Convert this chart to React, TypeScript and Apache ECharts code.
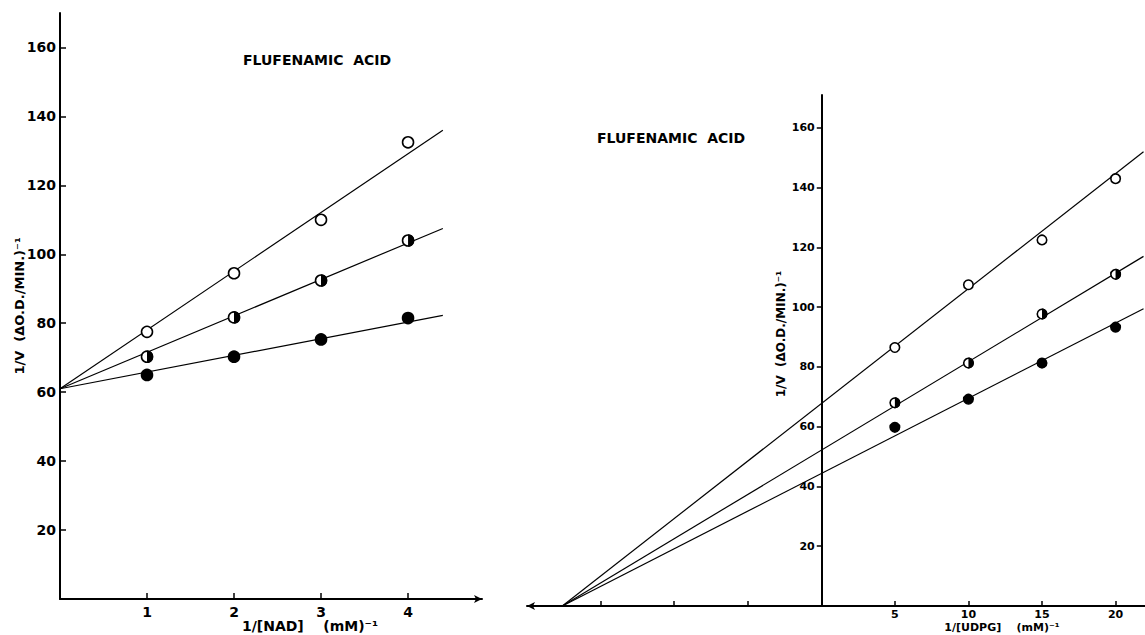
import React, { useEffect, useRef } from 'react';
import * as echarts from 'echarts';

// ---- Left panel: 1/[NAD] ----
const leftX = [1, 2, 3, 4];
const leftOpen = [77.5, 94.5, 110, 132.5];
const leftHalf = [70.3, 81.7, 92.4, 104];
const leftFilled = [65, 70.3, 75.3, 81.5];
const leftLineX = [0, 4.4];
const leftLineOpen = [61, 136];
const leftLineHalf = [61, 107.5];
const leftLineFilled = [61, 82.3];

// ---- Right panel: 1/[UDPG] ----
const rightX = [5, 10, 15, 20];
const rightOpen = [86.5, 107.5, 122.5, 143];
const rightHalf = [68, 81.3, 97.7, 111];
const rightFilled = [59.8, 69.2, 81.3, 93.3];
const rightLineX = [-17.6, 21.9];
const rightLineOpen = [0, 152];
const rightLineHalf = [0, 117];
const rightLineFilled = [0, 99.5];

// ---- Ticks / labels ----
const yTicks = [20, 40, 60, 80, 100, 120, 140, 160];
const leftXTicks = [1, 2, 3, 4];
const rightXTicks = [-15, -10, -5, 5, 10, 15, 20];
const rightXLabels = [5, 10, 15, 20];

const titleText = 'FLUFENAMIC  ACID';
const yNameText = '1/V  (ΔO.D./MIN.)⁻¹';
const leftXName = '1/[NAD]    (mM)⁻¹';
const rightXName = '1/[UDPG]    (mM)⁻¹';

const FONT = 'DejaVu Sans';
const HALF_PATH = 'path://M0,0C5.52,0,10,4.48,10,10C10,15.52,5.52,20,0,20Z';

// right grid geometry (x range -20..22)
const R_LEFT = 527;
const R_WIDTH = 619;
const R_MIN = -20;
const R_MAX = 22;

const pairs = (xs: number[], ys: number[]) => xs.map((x, i) => [x, ys[i]]);

function lineSeries(grid: number, xs: number[], ys: number[]) {
  return {
    type: 'line',
    xAxisIndex: grid,
    yAxisIndex: grid,
    data: pairs(xs, ys),
    symbol: 'none',
    lineStyle: { color: '#000', width: 1.2 },
    silent: true,
    z: 2,
  };
}

function markerSeries(grid: number, xs: number[], ys: number[], kind: 'open' | 'half' | 'filled', size: number) {
  const base = {
    type: 'scatter',
    xAxisIndex: grid,
    yAxisIndex: grid,
    data: pairs(xs, ys),
    symbol: 'circle',
    symbolSize: size,
    itemStyle: {
      color: kind === 'filled' ? '#000' : '#fff',
      borderColor: '#000',
      borderWidth: 1.6,
      opacity: 1,
    },
    silent: true,
    z: 3,
  };
  if (kind !== 'half') return [base];
  const w = size + 1.4;
  return [
    base,
    {
      type: 'scatter',
      xAxisIndex: grid,
      yAxisIndex: grid,
      data: pairs(xs, ys),
      symbol: HALF_PATH,
      symbolSize: [w / 2, w],
      symbolOffset: [w / 4, 0],
      itemStyle: { color: '#000', opacity: 1 },
      silent: true,
      z: 4,
    },
  ];
}

export default function App() {
  const ref = useRef<HTMLDivElement>(null);

  useEffect(() => {
    if (!ref.current) return;
    const chart = echarts.init(ref.current, undefined, { renderer: 'svg' });

    const axisLineStyle = { color: '#000', width: 2 };
    const tickStyle = { color: '#000', width: 1.5 };
    // pixel shift from grid's left edge to x = 0 on the right panel
    const zeroShift = (R_WIDTH * (0 - R_MIN)) / (R_MAX - R_MIN);

    const option: any = {
      animation: false,
      backgroundColor: '#fff',
      grid: [
        { left: 60, top: 13, width: 422, height: 586 },
        { left: R_LEFT, top: 95, width: R_WIDTH, height: 511 },
      ],
      xAxis: [
        {
          type: 'value',
          gridIndex: 0,
          min: 0,
          max: 4.85,
          axisLine: { show: true, lineStyle: axisLineStyle, symbol: ['none', 'arrow'], symbolSize: [6, 8] },
          axisTick: { show: true, inside: true, length: 6, lineStyle: tickStyle, customValues: leftXTicks },
          axisLabel: { show: true, customValues: leftXTicks, color: '#000', fontSize: 14, fontWeight: 'bold', fontFamily: FONT, margin: 6 },
          splitLine: { show: false },
        },
        {
          type: 'value',
          gridIndex: 1,
          min: R_MIN,
          max: R_MAX,
          axisLine: { show: true, lineStyle: axisLineStyle, symbol: ['arrow', 'none'], symbolSize: [6, 8] },
          axisTick: { show: true, inside: true, length: 5, lineStyle: tickStyle, customValues: rightXTicks },
          axisLabel: { show: true, customValues: rightXLabels, color: '#000', fontSize: 11, fontWeight: 'bold', fontFamily: FONT, margin: 3 },
          splitLine: { show: false },
        },
      ],
      yAxis: [
        {
          type: 'value',
          gridIndex: 0,
          min: 0,
          max: 170,
          axisLine: { show: true, onZero: false, lineStyle: axisLineStyle },
          axisTick: { show: true, inside: true, length: 6, lineStyle: tickStyle, customValues: yTicks },
          axisLabel: { show: true, customValues: yTicks, color: '#000', fontSize: 14, fontWeight: 'bold', fontFamily: FONT, margin: 4 },
          splitLine: { show: false },
        },
        {
          type: 'value',
          gridIndex: 1,
          min: 0,
          max: 171,
          offset: -zeroShift,
          axisLine: { show: true, onZero: false, lineStyle: axisLineStyle },
          axisTick: { show: true, inside: false, length: 5, lineStyle: tickStyle, customValues: yTicks },
          axisLabel: { show: true, customValues: yTicks, color: '#000', fontSize: 11, fontWeight: 'bold', fontFamily: FONT, margin: 7 },
          splitLine: { show: false },
        },
      ],
      series: [
        lineSeries(0, leftLineX, leftLineOpen),
        lineSeries(0, leftLineX, leftLineHalf),
        lineSeries(0, leftLineX, leftLineFilled),
        ...markerSeries(0, leftX, leftOpen, 'open', 11),
        ...markerSeries(0, leftX, leftHalf, 'half', 11),
        ...markerSeries(0, leftX, leftFilled, 'filled', 11),
        lineSeries(1, rightLineX, rightLineOpen),
        lineSeries(1, rightLineX, rightLineHalf),
        lineSeries(1, rightLineX, rightLineFilled),
        ...markerSeries(1, rightX, rightOpen, 'open', 9.5),
        ...markerSeries(1, rightX, rightHalf, 'half', 9.5),
        ...markerSeries(1, rightX, rightFilled, 'filled', 9.5),
      ],
      graphic: [
        {
          type: 'text', left: 243, top: 53,
          style: { text: titleText, fill: '#000', font: `bold 14px "${FONT}"` },
        },
        {
          type: 'text', left: 597, top: 131,
          style: { text: titleText, fill: '#000', font: `bold 14px "${FONT}"` },
        },
        {
          type: 'text', x: 19, y: 306, rotation: Math.PI / 2,
          style: { text: yNameText, fill: '#000', font: `bold 13px "${FONT}"`, align: 'center', verticalAlign: 'middle' },
        },
        {
          type: 'text', x: 781, y: 334, rotation: Math.PI / 2,
          style: { text: yNameText, fill: '#000', font: `bold 12px "${FONT}"`, align: 'center', verticalAlign: 'middle' },
        },
        {
          type: 'text', x: 310, y: 626,
          style: { text: leftXName, fill: '#000', font: `bold 14px "${FONT}"`, align: 'center', verticalAlign: 'middle' },
        },
        {
          type: 'text', x: 1002, y: 627,
          style: { text: rightXName, fill: '#000', font: `bold 11px "${FONT}"`, align: 'center', verticalAlign: 'middle' },
        },
      ],
    };

    chart.setOption(option);
    return () => chart.dispose();
  }, []);

  return (
    <div
      ref={ref}
      style={{ position: 'fixed', left: 0, top: 0, width: 1145, height: 635, background: '#fff' }}
    />
  );
}
